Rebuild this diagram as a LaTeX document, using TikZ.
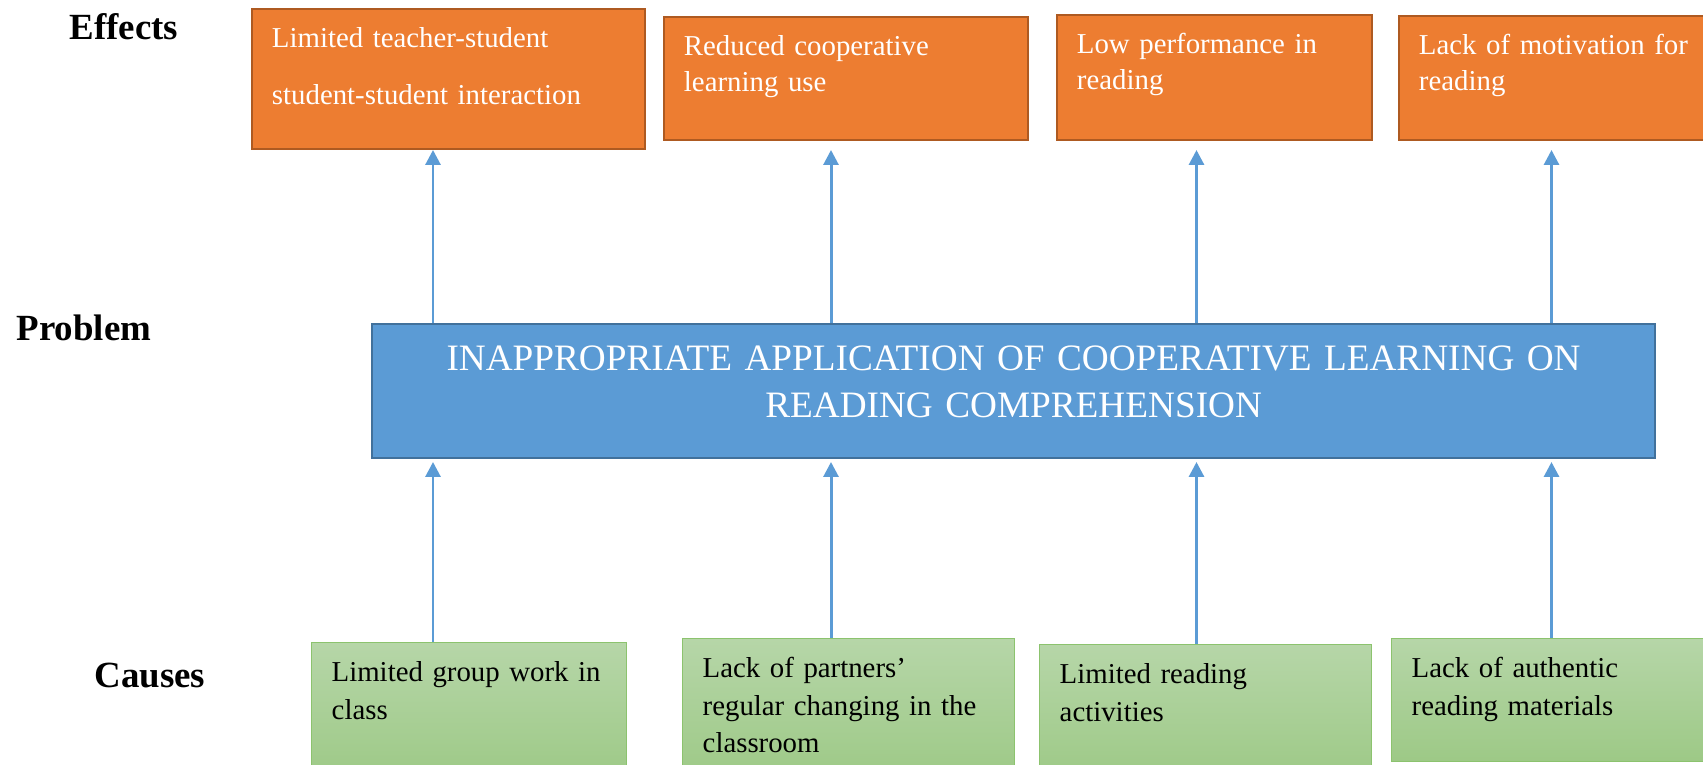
\documentclass[tikz,border=0pt]{standalone}
\usepackage{fontspec}
\setmainfont{Liberation Serif}
\usetikzlibrary{arrows.meta}

\definecolor{effectfill}{HTML}{ED7D31}
\definecolor{effectline}{HTML}{AE5A21}
\definecolor{probfill}{HTML}{5B9BD5}
\definecolor{probline}{HTML}{41719C}
\definecolor{causetop}{HTML}{B6D6A8}
\definecolor{causebot}{HTML}{9DC986}
\definecolor{causeline}{HTML}{8CC36E}
\definecolor{arrowblue}{HTML}{5B9BD5}

\begin{document}
\begin{tikzpicture}[
  effectbox/.style={draw=effectline, fill=effectfill, line width=1.1pt, text=white,
    anchor=north west, align=left, inner xsep=0.4cm, inner ysep=0pt, text height=0.78cm,
    font=\fontsize{16.4}{20}\selectfont},
  causebox/.style={draw=causeline, top color=causetop, bottom color=causebot, line width=0.8pt,
    anchor=north west, align=left, inner xsep=0.4cm, inner ysep=0pt, text height=0.78cm,
    font=\fontsize{16.4}{21.3}\selectfont},
  probbox/.style={draw=probline, fill=probfill, line width=1.3pt, text=white,
    anchor=north west, align=center, inner xsep=0.2cm, inner ysep=0pt, text height=0.92cm,
    font=\fontsize{21.2}{26.7}\selectfont},
  rowlabel/.style={font=\bfseries\fontsize{21}{25}\selectfont},
  upline/.style={draw=arrowblue, line width=1.7pt, -{Triangle[width=0.3cm,length=0.3cm]}}
]
\useasboundingbox (0,0) rectangle (34.06,15.3);
\clip (0,0) rectangle (34.06,15.3);

% row titles
\node[rowlabel] (effects) at (2.48,14.76) {Effects};
\node[rowlabel] (problem) at (1.68,8.74) {Problem};
\node[rowlabel] (causes) at (3.00,1.78) {Causes};

% effects
\node[effectbox, text width=7.06cm, text depth=2.02cm] (e1) at (5.02,15.14)
  {Limited teacher-student\\[12pt]student-student interaction};
\node[effectbox, text width=6.48cm, text depth=1.68cm] (e2) at (13.26,14.98)
  {Reduced cooperative\\learning use};
\node[effectbox, text width=5.50cm, text depth=1.72cm] (e3) at (21.12,15.02)
  {Low performance in\\reading};
\node[effectbox, text width=6.00cm, text depth=1.70cm] (e4) at (27.96,15.00)
  {Lack of motivation for\\reading};

% core problem
\node[probbox, text width=25.26cm, text depth=1.76cm] (prob) at (7.42,8.84)
  {INAPPROPRIATE APPLICATION OF COOPERATIVE LEARNING ON\\READING COMPREHENSION};

% causes
\node[causebox, text width=5.50cm, text depth=1.98cm] (c1) at (6.22,2.46)
  {Limited group work in\\class};
\node[causebox, text width=5.84cm, text depth=2.06cm] (c2) at (13.64,2.54)
  {Lack of partners’\\regular changing in the\\classroom};
\node[causebox, text width=5.84cm, text depth=1.94cm] (c3) at (20.78,2.42)
  {Limited reading\\activities};
\node[causebox, text width=5.80cm, text depth=1.68cm] (c4) at (27.82,2.54)
  {Lack of authentic\\reading materials};

% arrows: causes -> problem -> effects
\foreach \x [count=\i] in {8.66,16.62,23.93,31.03}{
  \coordinate (up\i) at (\x,12.30);
  \coordinate (dn\i) at (\x,6.06);
  \draw[upline] (prob.north -| up\i) -- (up\i);
  \draw[upline] (c\i.north -| dn\i) -- (dn\i);
}
\end{tikzpicture}
\end{document}
